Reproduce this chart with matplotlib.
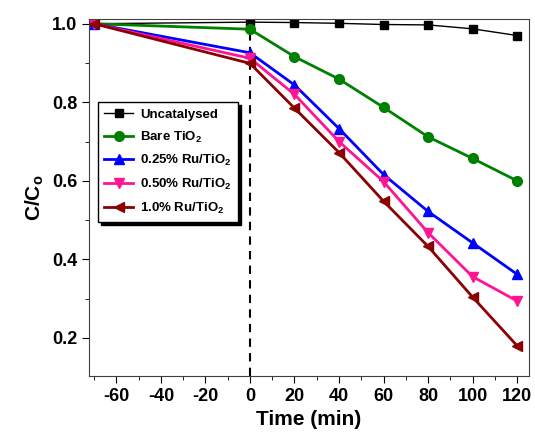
import numpy as np
import matplotlib
matplotlib.use('Agg')
import matplotlib.pyplot as plt
from matplotlib.ticker import MultipleLocator

plt.rcParams['font.family'] = ['Liberation Sans', 'DejaVu Sans']
plt.rcParams['font.weight'] = 'bold'
plt.rcParams['axes.unicode_minus'] = False
plt.rcParams['mathtext.fontset'] = 'custom'
plt.rcParams['mathtext.rm'] = 'Liberation Sans:bold'
plt.rcParams['mathtext.it'] = 'Liberation Sans:bold'
plt.rcParams['mathtext.bf'] = 'Liberation Sans:bold'

time = [-70, 0, 20, 40, 60, 80, 100, 120]
uncatalysed = [1.0, 1.004, 1.003, 1.001, 0.998, 0.997, 0.987, 0.970]
bare_tio2 = [1.0, 0.986, 0.916, 0.859, 0.787, 0.712, 0.657, 0.600]
ru_025 = [1.0, 0.926, 0.844, 0.733, 0.616, 0.522, 0.442, 0.362]
ru_050 = [1.0, 0.912, 0.820, 0.700, 0.598, 0.468, 0.356, 0.294]
ru_100 = [1.0, 0.899, 0.785, 0.672, 0.548, 0.433, 0.304, 0.180]

series = [
    ('Uncatalysed', uncatalysed, 'black', 's', 1.0, 6),
    ('Bare TiO$_2$', bare_tio2, '#008000', 'o', 2.0, 7),
    ('0.25% Ru/TiO$_2$', ru_025, '#0000ff', '^', 2.0, 7.5),
    ('0.50% Ru/TiO$_2$', ru_050, '#ff1493', 'v', 2.0, 7.5),
    ('1.0% Ru/TiO$_2$', ru_100, '#8b0000', '<', 2.0, 7.5),
]

fig = plt.figure(figsize=(5.35, 4.38), dpi=100)
ax = fig.add_axes([0.166, 0.1416, 0.823, 0.815])

for label, vals, col, mk, lw, ms in series:
    ax.plot(time, vals, color=col, marker=mk, markersize=ms, lw=lw, label=label)

ax.axvline(0, color='black', ls=(0, (4, 3)), lw=1.5, zorder=0)

ax.set_xlim(-72.4, 125.4)
ax.set_ylim(0.103, 1.012)
ax.xaxis.set_major_locator(MultipleLocator(20))
ax.xaxis.set_minor_locator(MultipleLocator(10))
ax.yaxis.set_major_locator(MultipleLocator(0.2))
ax.yaxis.set_minor_locator(MultipleLocator(0.1))
ax.tick_params(which='major', direction='out', length=5, labelsize=13)
ax.tick_params(which='minor', direction='out', length=3)
for lab in ax.get_xticklabels() + ax.get_yticklabels():
    lab.set_fontweight('bold')
for sp in ax.spines.values():
    sp.set_color('#404040')

ax.set_xlabel('Time (min)', fontsize=15, fontweight='bold')
ax.set_ylabel('C/C$_o$', fontsize=15, fontweight='bold')

leg = ax.legend(loc='upper left', bbox_to_anchor=(0.0205, 0.7675), borderaxespad=0,
                fancybox=False, edgecolor='black', framealpha=1,
                shadow={'color': 'black', 'alpha': 1}, handlelength=2.2,
                handletextpad=0.5, borderpad=0.5,
                prop={'size': 9.5, 'weight': 'bold'}, labelspacing=0.65)
leg.get_frame().set_linewidth(1.0)

plt.savefig('out.png', dpi=100)
